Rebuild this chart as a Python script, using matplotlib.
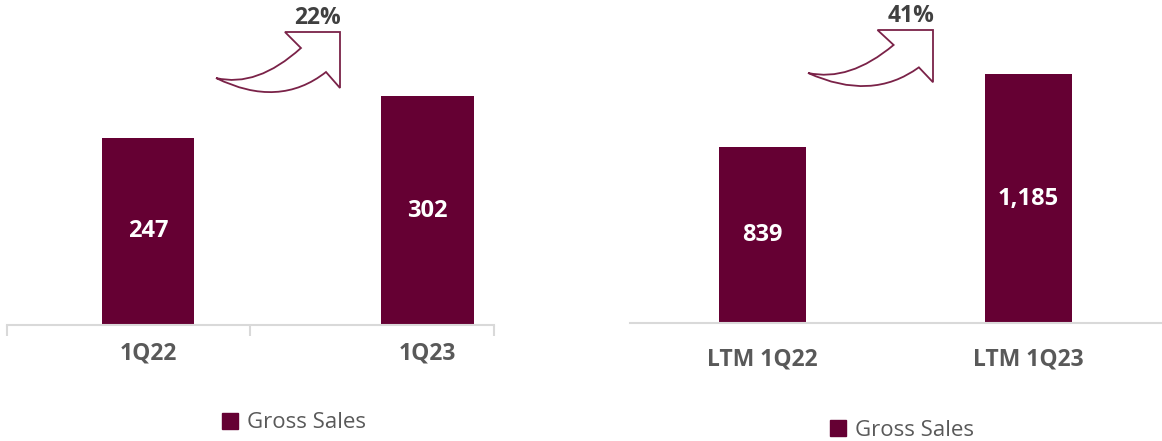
import matplotlib.pyplot as plt
from matplotlib.patches import Patch, PathPatch
from matplotlib.path import Path
from matplotlib.transforms import Affine2D

plt.rcParams['font.family'] = ['Open Sans', 'DejaVu Sans']

# quarterly gross sales
q_labels = ['1Q22', '1Q23']
q_values = [247, 302]
q_growth = '22%'

# last twelve months gross sales
ltm_labels = ['LTM 1Q22', 'LTM 1Q23']
ltm_values = [839, 1185]
ltm_growth = '41%'

BAR = '#650033'
ARROW = '#7a2248'
GRID = '#d9d9d9'
DARK = '#404040'
GREY = '#595959'

W, H = 1162, 441
fig = plt.figure(figsize=(W / 100, H / 100), dpi=100)


def px_axes(x0, x1, ybot):
    return fig.add_axes([x0 / W, (H - ybot) / H, (x1 - x0) / W, ybot / H])


def curved_arrow(x0, y0, x1, y1):
    # outline of a bent block arrow, box given in pixels from the top-left
    pts = [(0.0, 0.767), (0.331, 0.93), (0.685, 0.267), (0.556, 0.0),
           (1.0, 0.0), (1.0, 0.933), (0.887, 0.667), (0.508, 1.283),
           (0.0, 0.767)]
    codes = [Path.MOVETO, Path.CURVE3, Path.CURVE3, Path.LINETO,
             Path.LINETO, Path.LINETO, Path.LINETO, Path.CURVE3,
             Path.CURVE3]
    tr = Affine2D().scale(x1 - x0, -(y1 - y0)).translate(x0, H - y0) \
        + Affine2D().scale(1 / W, 1 / H) + fig.transFigure
    fig.patches.append(PathPatch(Path(pts, codes), facecolor='white',
                                 edgecolor=ARROW, lw=1.3, transform=tr))


def fmt(v):
    return f'{v:,}'


# left panel
ax1 = px_axes(7, 494, 325)
ax1.bar([0, 1], q_values, width=0.33, color=BAR)
ax1.set_xlim(-0.5045, 1.238)
ax1.set_ylim(0, 429)
for i, v in enumerate(q_values):
    ax1.text(i, v / 2, fmt(v), ha='center', va='center', color='white',
             fontsize=17, fontweight='bold')
    ax1.text(i, -38, q_labels[i], ha='center', va='center',
             color=GREY, fontsize=16.5, fontweight='bold')
ax1.set_xticks([-0.5045, 0.3655, 1.238])
ax1.tick_params(axis='x', length=8, width=1.5, color=GRID, labelbottom=False)
ax1.set_yticks([])

# right panel
ax2 = px_axes(630, 1162, 323)
ax2.bar([0, 1], ltm_values, width=0.327, color=BAR)
ax2.set_xlim(-0.498, 1.502)
ax2.set_ylim(0, 1540)
for i, v in enumerate(ltm_values):
    ax2.text(i, v / 2, fmt(v), ha='center', va='center', color='white',
             fontsize=17, fontweight='bold')
    ax2.text(i, -0.114 * 1540, ltm_labels[i], ha='center', va='center',
             color=GREY, fontsize=16.5, fontweight='bold')
ax2.set_xticks([])
ax2.set_yticks([])

for ax in (ax1, ax2):
    for s in ('top', 'left', 'right'):
        ax.spines[s].set_visible(False)
    ax.spines['bottom'].set_color(GRID)
    ax.spines['bottom'].set_linewidth(1.5)
    ax.patch.set_visible(False)

# growth arrows
curved_arrow(216, 32, 340, 92)
curved_arrow(808, 30, 933, 86)
fig.text(341 / W, (H - 30) / H, q_growth, ha='right', va='bottom',
         color=DARK, fontsize=16.5, fontweight='bold')
fig.text(934 / W, (H - 28) / H, ltm_growth, ha='right', va='bottom',
         color=DARK, fontsize=16.5, fontweight='bold')

# legends
for cx, cy in ((294, 423), (902, 430)):
    fig.legend(handles=[Patch(color=BAR, label='Gross Sales')],
               loc='center', bbox_to_anchor=(cx / W, (H - cy) / H),
               frameon=False, fontsize=16, handlelength=0.7,
               handleheight=0.7, handletextpad=0.4, labelcolor=GREY)

fig.savefig('out.png', dpi=100)
